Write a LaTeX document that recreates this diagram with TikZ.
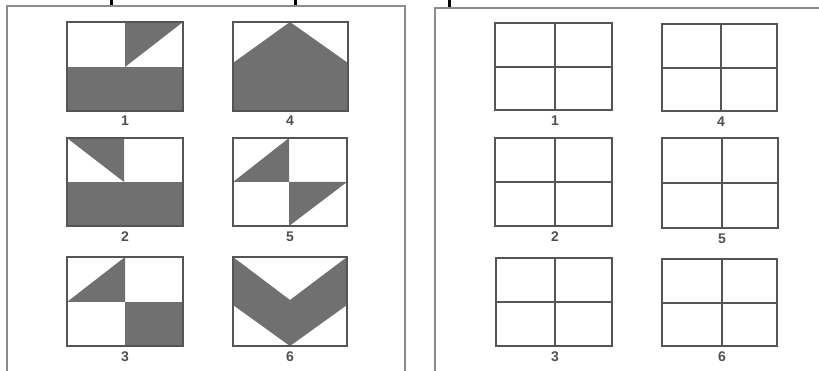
\documentclass[tikz,border=0pt]{standalone}
\usepackage{fontspec}
\setsansfont{Liberation Sans}
\usetikzlibrary{calc}
\definecolor{shade}{RGB}{112,112,112}
\definecolor{edge}{RGB}{85,85,85}
\definecolor{frame}{RGB}{140,140,140}
\definecolor{numc}{RGB}{80,80,80}
\tikzset{
  px/.style={x=1pt,y=-1pt},
  dark/.style={fill=shade,draw=none},
  box/.style={draw=edge,line width=1.6pt},
  grid/.style={draw=edge,line width=1.1pt},
  panel/.style={draw=frame,line width=1.4pt},
  lbl/.style={font=\fontsize{14}{14}\sffamily\bfseries,text=numc,inner sep=0pt}
}
\begin{document}
\begin{tikzpicture}[px]
\useasboundingbox[fill=white] (0,0) rectangle (819,371);
% cut-off marks at top
\fill[black] (110,0) rectangle (113,6);
\fill[black] (294,0) rectangle (297,6);
\fill[black] (448,0) rectangle (451,7);
% panels
\draw[panel] (7,371) -- (7,6) -- (405,6) -- (405,371);
\draw[panel] (435,371) -- (435,8) -- (819,8);

% ---------- left panel ----------
% Fig 1
\fill[dark] (67,67) rectangle (183,111);
\fill[dark] (125,22) -- (183,22) -- (125,67) -- cycle;
\draw[box] (67,22) rectangle (183,111);
\node[lbl] (l1) at (125,121) {1};
% Fig 4
\fill[dark] (233,63) -- (290,22) -- (348,63) -- (348,111) -- (233,111) -- cycle;
\draw[box] (233,22) rectangle (348,111);
\node[lbl] (l4) at (290,121) {4};
% Fig 2
\fill[dark] (67,182) rectangle (183,226);
\fill[dark] (67,138) -- (124,138) -- (124,182) -- cycle;
\draw[box] (67,138) rectangle (183,226);
\node[lbl] (l2) at (125,237) {2};
% Fig 5
\fill[dark] (233,182) -- (289,138) -- (289,182) -- cycle;
\fill[dark] (289,182) -- (347,182) -- (289,226) -- cycle;
\draw[box] (233,138) rectangle (347,226);
\node[lbl] (l5) at (290,237) {5};
% Fig 3
\fill[dark] (67,302) -- (125,257) -- (125,302) -- cycle;
\fill[dark] (125,302) rectangle (183,346);
\draw[box] (67,257) rectangle (183,346);
\node[lbl] (l3) at (125,357) {3};
% Fig 6
\fill[dark] (233,257) -- (290,300) -- (347,257) -- (347,305) -- (290,346) -- (233,305) -- cycle;
\draw[box] (233,257) rectangle (347,346);
\node[lbl] (l6) at (290,357) {6};

% ---------- right panel ----------
\foreach \xa/\xm/\xb/\ya/\ym/\yb/\t in {
  495/555/612/23/67/110/1,
  662/721/777/24/68/111/4,
  495/555/612/138/182/226/2,
  662/722/778/138/183/228/5,
  496/555/612/258/302/346/3,
  662/722/777/259/303/346/6}{
  \draw[grid] (\xm,\ya) -- (\xm,\yb);
  \draw[grid] (\xa,\ym) -- (\xb,\ym);
  \draw[box] (\xa,\ya) rectangle (\xb,\yb);
  \node[lbl] (r\t) at (\xm,\yb+11) {\t};
}
\end{tikzpicture}
\end{document}
